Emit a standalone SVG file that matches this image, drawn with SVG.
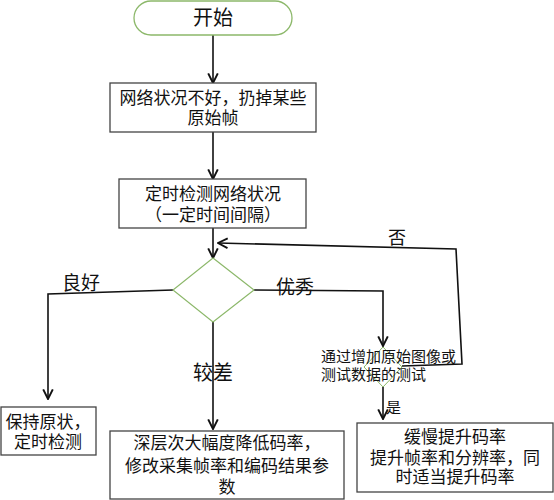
<svg xmlns="http://www.w3.org/2000/svg" width="554" height="500" viewBox="0 0 554 500">
<defs>
<marker id="arr" markerUnits="userSpaceOnUse" markerWidth="12" markerHeight="12" refX="9" refY="5" orient="auto" viewBox="0 0 10 10">
<path d="M1,1 L9,5 L1,9" fill="none" stroke="#111" stroke-width="1.6"/>
</marker>
</defs>
<style>
.box{fill:#fff;stroke:#444;stroke-width:1.3}
.term{fill:#fff;stroke:#8cb86a;stroke-width:1.3}
.dia{fill:#fff;stroke:#8cb86a;stroke-width:1.2}
.dia2{fill:none;stroke:#8cb86a;stroke-width:1}
.t{font-family:"Noto Sans CJK SC","Noto Sans",sans-serif;font-size:17px;fill:#111;text-anchor:middle}
.lbl{font-family:"Noto Sans CJK SC","Noto Sans",sans-serif;font-size:19px;fill:#111}
.sm{font-family:"Noto Sans CJK SC","Noto Sans",sans-serif;font-size:15px;fill:#111}
.c{fill:none;stroke:#111;stroke-width:1.6;marker-end:url(#arr)}
</style>
<g id="connectors">
<line class="c" x1="213" y1="35" x2="213" y2="83"/>
<line class="c" x1="213" y1="132" x2="213" y2="179"/>
<line class="c" x1="213" y1="228" x2="213" y2="258"/>
<polyline class="c" points="173,290 48,294 48,399"/>
<line class="c" x1="213" y1="322" x2="213" y2="429"/>
<polyline class="c" points="254,290 383,291 383,346"/>
<polyline class="c" points="402,366 462,364 456,249 218,243"/>
<line class="c" x1="383" y1="387" x2="383" y2="419"/>
<text class="lbl" x="62" y="290">良好</text>
<text class="lbl" x="213" y="380" text-anchor="middle" style="font-size:20px">较差</text>
<text class="lbl" x="276" y="294">优秀</text>
<text class="lbl" x="397" y="244" text-anchor="middle" style="font-size:18px">否</text>
<text class="sm" x="386" y="413">是</text>
</g>
<g id="start">
<rect class="term" x="134" y="1" width="158" height="34" rx="17"/>
<text class="t" x="213" y="25" style="font-size:20px">开始</text>
</g>
<g id="drop">
<rect class="box" x="110" y="83" width="206" height="49"/>
<text class="t" x="213" y="104">网络状况不好，扔掉某些</text>
<text class="t" x="213" y="124">原始帧</text>
</g>
<g id="check">
<rect class="box" x="119" y="179" width="187" height="49"/>
<text class="t" x="213" y="200">定时检测网络状况</text>
<text class="t" x="213" y="221">（一定时间间隔）</text>
</g>
<g id="decision">
<polygon class="dia" points="213,258 254,290 213,322 173,290"/>
</g>
<g id="test">
<polygon class="dia2" points="383,347 402,367 383,387 364,367"/>
<text class="sm" x="321" y="362">通过增加原始图像或</text>
<text class="sm" x="321" y="380">测试数据的测试</text>
</g>
<g id="keep">
<rect class="box" x="1" y="407" width="95" height="48"/>
<text class="t" x="48" y="428">保持原状，</text>
<text class="t" x="48" y="448">定时检测</text>
</g>
<g id="reduce">
<rect class="box" x="110" y="431" width="234" height="68"/>
<text class="t" x="227" y="449">深层次大幅度降低码率，</text>
<text class="t" x="227" y="472">修改采集帧率和编码结果参</text>
<text class="t" x="227" y="493">数</text>
</g>
<g id="raise">
<rect class="box" x="357" y="423" width="196" height="69"/>
<text class="t" x="455" y="443">缓慢提升码率</text>
<text class="t" x="455" y="464">提升帧率和分辨率，同</text>
<text class="t" x="455" y="483">时适当提升码率</text>
</g>
</svg>
